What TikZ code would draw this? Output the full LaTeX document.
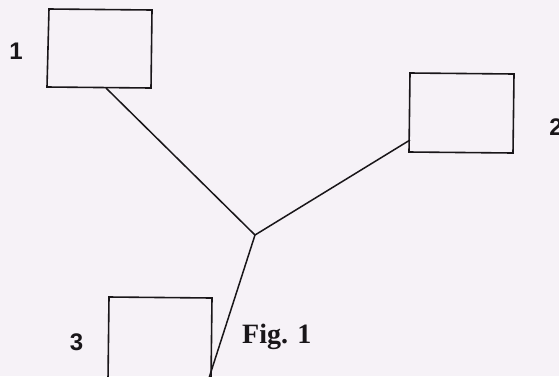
\documentclass[tikz,border=0pt]{standalone}
\usepackage{fontspec}
\newfontfamily\labfont{Liberation Sans}
\newfontfamily\figfont{Liberation Serif}
\definecolor{paper}{RGB}{246,242,247}
\definecolor{ink}{RGB}{25,22,25}
\begin{document}
\begin{tikzpicture}[x=1pt,y=-1pt,
  box/.style={draw=ink,line width=1.6pt},
  wire/.style={draw=ink,line width=1.5pt},
  num/.style={anchor=base,inner sep=0pt,text=ink,font=\labfont\bfseries\fontsize{24}{24}\selectfont},
  figcaption/.style={anchor=base west,inner sep=0pt,text=ink,font=\figfont\bfseries\fontsize{28}{28}\selectfont}]
\fill[paper] (0,0) rectangle (559,376);
\useasboundingbox (0,0) rectangle (559,376);
\clip (0,0) rectangle (559,376);
% boxes
\draw[box] (49,9) -- (152,10) -- (151,88) -- (47,87) -- cycle;
\draw[box] (410,73) -- (514,74) -- (513,153) -- (409,152) -- cycle;
\draw[box] (108,380) -- (109,297) -- (212,298) -- (211,380);
% junction and attach points
\coordinate (j) at (255,235);
\coordinate (a1) at (106,88);
\coordinate (a2) at (410,140);
\coordinate (a3) at (209,378);
\draw[wire] (a1) -- (j);
\draw[wire] (a2) -- (j);
\draw[wire] (j) -- (a3);
% labels
\node[num] (l1) at (16,59) {1};
\node[num] (l2) at (556,135) {2};
\node[num] (l3) at (76.5,350) {3};
\node[figcaption] (fig) at (242,343) {Fig. 1};
\end{tikzpicture}
\end{document}
